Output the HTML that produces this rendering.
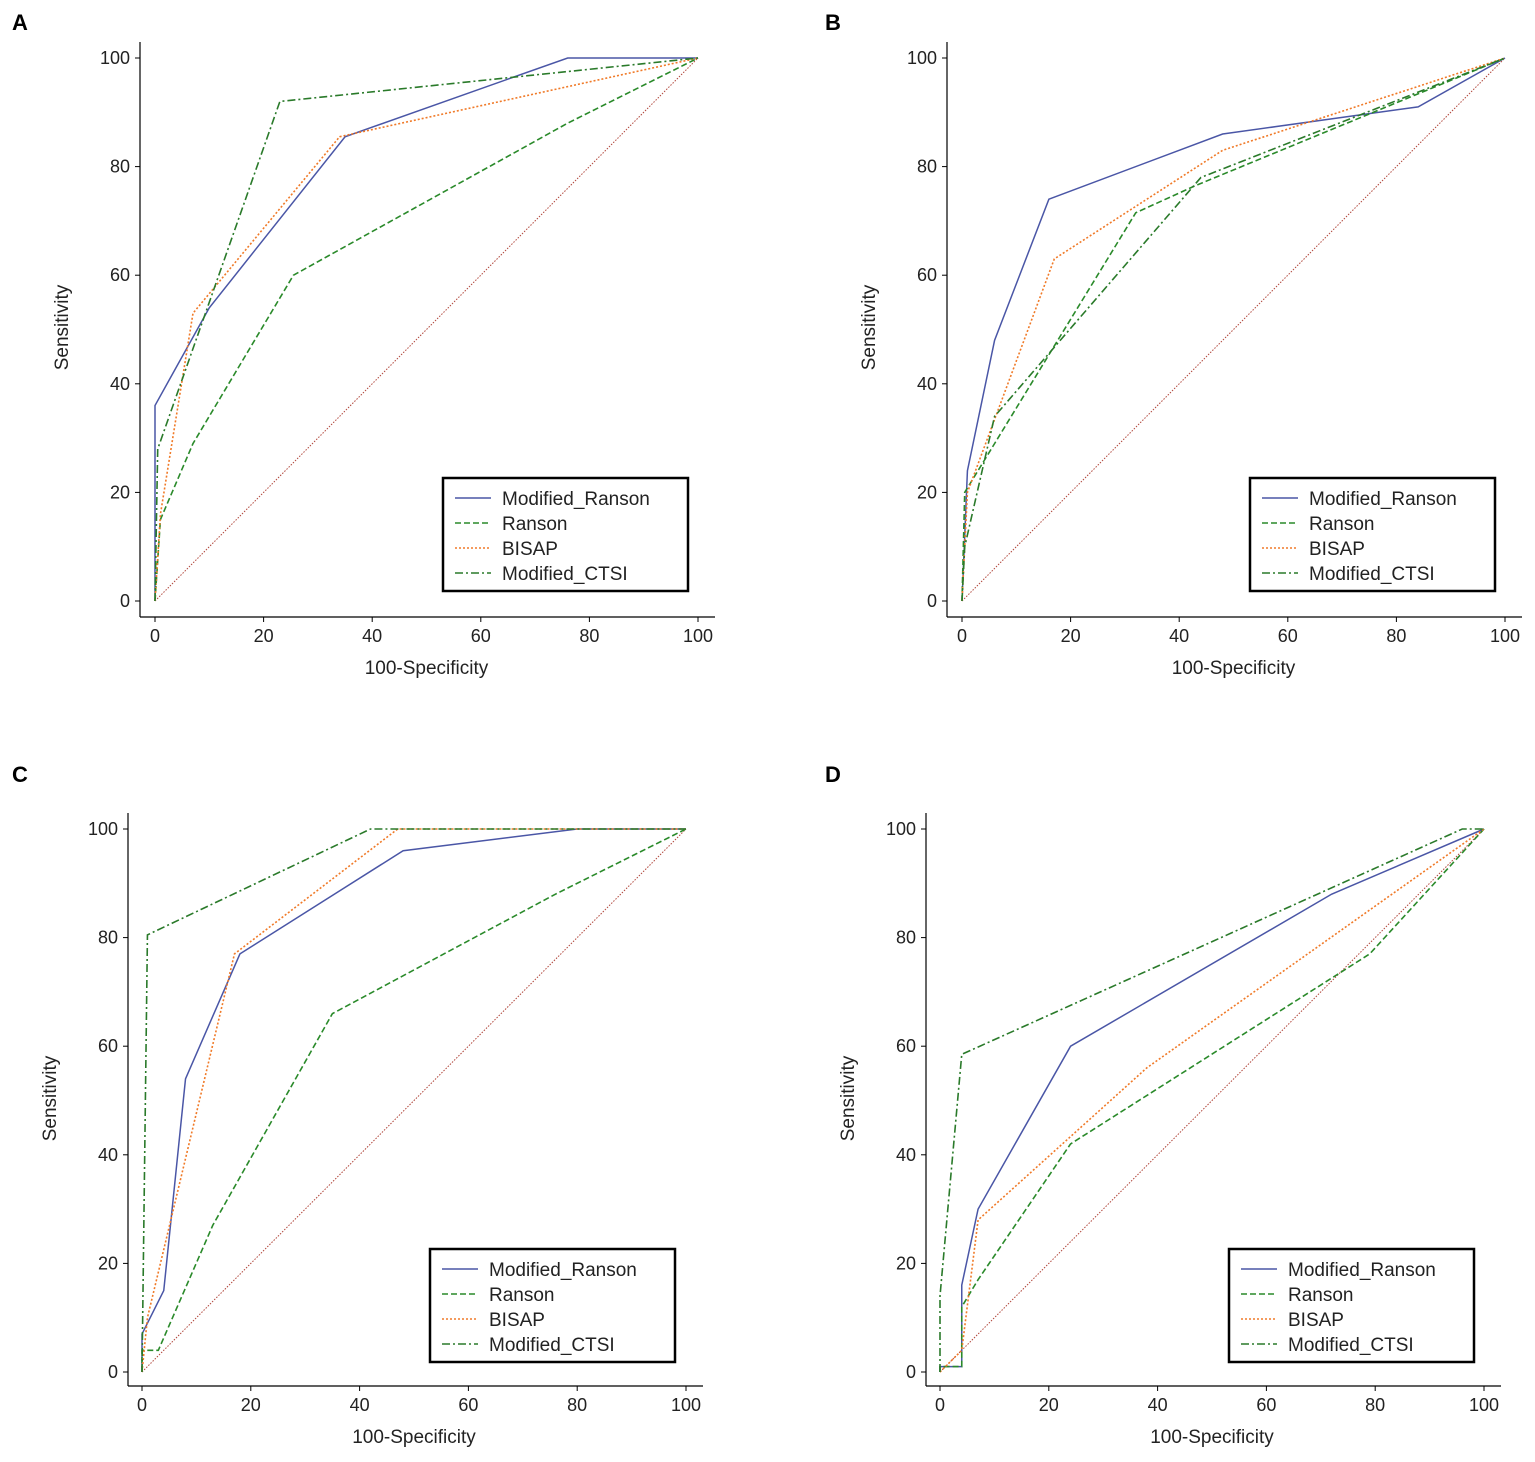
<!DOCTYPE html>
<html><head><meta charset="utf-8"><style>
html,body{margin:0;padding:0;background:#fff}
svg{display:block;font-family:"Liberation Sans",Arial,sans-serif}
</style></head><body>
<svg id="c" width="1535" height="1462"></svg>
<script>
const seriesNames=["Modified_Ranson","Ranson","BISAP","Modified_CTSI"];
const tickValues=[0,20,40,60,80,100];
// panel A
const A_modRanson=[[0,0],[0,36],[10,54],[35,85.5],[76,100],[100,100]];
const A_ranson=[[0,0],[1,15],[7,29],[25.5,60],[76,88],[100,100]];
const A_bisap=[[0,0],[1,16],[7,53],[34,85.5],[100,100]];
const A_ctsi=[[0,0],[0.5,28],[23,92],[100,100]];
// panel B
const B_modRanson=[[0,0],[1,24],[6,48],[16,74],[48,86],[84,91],[100,100]];
const B_ranson=[[0,0],[0.5,20],[32,71.5],[43,76.5],[100,100]];
const B_bisap=[[0,0],[1,20],[17,63],[48,83],[100,100]];
const B_ctsi=[[0,0],[0.5,10],[6,34],[44,78],[100,100]];
// panel C
const C_modRanson=[[0,0],[0,7],[4,15],[8,54],[18,77],[48,96],[80,100],[100,100]];
const C_ranson=[[0,0],[0,4],[3,4],[13,27],[35,66],[76,88],[100,100]];
const C_bisap=[[0,0],[1,10],[17,77],[47,100],[100,100]];
const C_ctsi=[[0,0],[1,80.5],[42,100],[100,100]];
// panel D
const D_modRanson=[[0,0],[0,1],[4,1],[4,16],[7,30],[24,60],[72,88],[100,100]];
const D_ranson=[[0,0],[0,1],[4,1],[4,12],[7,17],[24,42],[79,77],[100,100]];
const D_bisap=[[0,0],[4,4],[7,28],[38,56],[100,100]];
const D_ctsi=[[0,0],[0,14],[4,58.5],[96,100],[100,100]];

const styles=[
 {c:"#4a56a6",d:"",w:1.5},
 {c:"#2a8a2a",d:"6,3",w:1.6},
 {c:"#f07a28",d:"2,2",w:1.6},
 {c:"#2a7a2a",d:"8,3,2,3",w:1.6}];
const panels=[
 {id:"A",lx:12,ly:30,x0:155,x1:698,y0:601,y1:58,ax:140,axy:617,leg:[443,478],s:[A_modRanson,A_ranson,A_bisap,A_ctsi]},
 {id:"B",lx:825,ly:30,x0:962,x1:1505,y0:601,y1:58,ax:947,axy:617,leg:[1250,478],s:[B_modRanson,B_ranson,B_bisap,B_ctsi]},
 {id:"C",lx:12,ly:782,x0:142,x1:686,y0:1372,y1:829,ax:128,axy:1386,leg:[430,1249],s:[C_modRanson,C_ranson,C_bisap,C_ctsi]},
 {id:"D",lx:825,ly:782,x0:940,x1:1484,y0:1372,y1:829,ax:926,axy:1386,leg:[1229,1249],s:[D_modRanson,D_ranson,D_bisap,D_ctsi]}];
const svg=document.getElementById('c');
const NS="http://www.w3.org/2000/svg";
function mk(t,a,p){const e=document.createElementNS(NS,t);for(const k in a)e.setAttribute(k,a[k]);(p||svg).appendChild(e);return e;}
panels.forEach(p=>{
 const g=mk('g',{});
 
 
 const X=v=>p.x0+(p.x1-p.x0)*v/100, Y=v=>p.y0+(p.y1-p.y0)*v/100;
 const lab=mk('text',{x:p.lx,y:p.ly,'font-size':22,'font-weight':'bold'},g);lab.textContent=p.id;
 
 
 const ya=mk('line',{x1:p.ax,x2:p.ax,y1:Y(100)-16,y2:p.axy,stroke:'#000','stroke-width':1.2},g);
 
 
 const xa=mk('line',{x1:p.ax,x2:X(100)+17,y1:p.axy,y2:p.axy,stroke:'#000','stroke-width':1.2},g);
 
 
 tickValues.forEach(t=>{
  mk('line',{x1:p.ax-5,x2:p.ax,y1:Y(t),y2:Y(t),stroke:'#000'},g);
  const yt=mk('text',{x:p.ax-10,y:Y(t)+6,'font-size':18,'text-anchor':'end',fill:'#222'},g);yt.textContent=t;
  
  
  mk('line',{x1:X(t),x2:X(t),y1:p.axy,y2:p.axy+5,stroke:'#000'},g);
  const xt=mk('text',{x:X(t),y:p.axy+25,'font-size':18,'text-anchor':'middle',fill:'#222'},g);xt.textContent=t;
  
  
 });
 const xtit=mk('text',{x:X(50),y:p.axy+57,'font-size':19,'text-anchor':'middle',fill:'#222'},g);xtit.textContent='100-Specificity';
 
 
 const yc=(Y(0)+Y(100))/2-2;
 const ytit=mk('text',{x:p.ax-72,y:yc,'font-size':19,'text-anchor':'middle',fill:'#222',transform:`rotate(-90 ${p.ax-72} ${yc})`},g);ytit.textContent='Sensitivity';
 
 
 const ref=mk('line',{x1:X(0),y1:Y(0),x2:X(100),y2:Y(100),stroke:'#b0453a','stroke-width':1,'stroke-dasharray':'1.5,1.5'},g);
 
 
 p.s.forEach((d,i)=>{
  const st=styles[i];
  const pl=mk('polyline',{points:d.map(q=>X(q[0])+','+Y(q[1])).join(' '),fill:'none',stroke:st.c,'stroke-width':st.w,'stroke-dasharray':st.d},g);
  
  
 });
 const lg=mk('g',{},g);
 
 
 mk('rect',{x:p.leg[0],y:p.leg[1],width:245,height:113,fill:'#fff',stroke:'#000','stroke-width':2.5},lg);
 seriesNames.forEach((n,i)=>{
  const st=styles[i], yy=p.leg[1]+20+i*25;
  mk('line',{x1:p.leg[0]+12,x2:p.leg[0]+48,y1:yy,y2:yy,stroke:st.c,'stroke-width':st.w,'stroke-dasharray':st.d},lg);
  const t=mk('text',{x:p.leg[0]+59,y:yy+7,'font-size':19,fill:'#222'},lg);t.textContent=n;
  
  
 });
});
</script>
</body></html>
